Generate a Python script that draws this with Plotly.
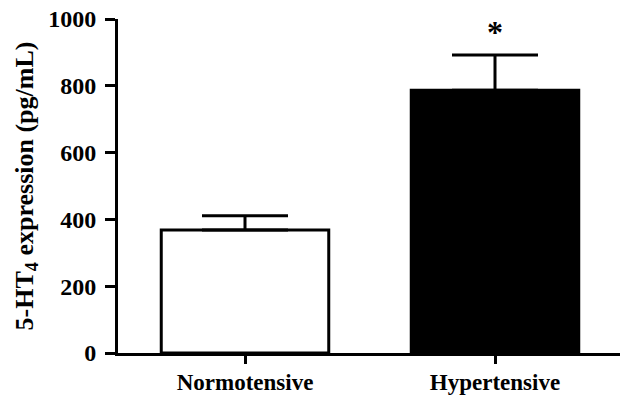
import plotly.graph_objects as go

categories = ["Normotensive", "Hypertensive"]
means = [368, 787]
sem = [43, 105]
bar_colors = ["white", "black"]
y_ticks = [0, 200, 400, 600, 800, 1000]
sig_labels = ["", "*"]

FONT = "Liberation Serif, Times New Roman, serif"

fig = go.Figure()
fig.add_trace(go.Bar(
    x=[0, 1], y=means, width=0.67,
    marker=dict(color=bar_colors, line=dict(color="black", width=3)),
    error_y=dict(type="data", symmetric=False, array=sem, arrayminus=[0, 0],
                 color="black", thickness=3, width=43),
    showlegend=False,
))

for i, s in enumerate(sig_labels):
    if s:
        fig.add_annotation(x=i, y=means[i] + sem[i], text="<b>" + s + "</b>",
                           showarrow=False, yanchor="bottom", yshift=3,
                           font=dict(family=FONT, size=32, color="black"))

fig.update_layout(
    width=625, height=395,
    margin=dict(l=118, r=5, t=19, b=42, autoexpand=False),
    paper_bgcolor="white", plot_bgcolor="white",
    font=dict(family=FONT, color="black"),
    xaxis=dict(range=[-0.508, 1.5], tickvals=[0, 1], ticktext=["<b>%s</b>" % c for c in categories],
               showline=True, linecolor="black", linewidth=3, automargin=False,
               ticks="outside", ticklen=8, tickwidth=3, tickcolor="black",
               showgrid=False, zeroline=False, ticklabelstandoff=-2,
               tickfont=dict(family=FONT, size=23, color="black")),
    yaxis=dict(range=[0, 1000], tickvals=y_ticks, ticktext=["<b>%d</b>" % v for v in y_ticks],
               showline=True, linecolor="black", linewidth=3, automargin=False,
               ticks="outside", ticklen=10, tickwidth=3, tickcolor="black",
               showgrid=False, zeroline=False, ticklabelstandoff=4,
               tickfont=dict(family=FONT, size=24, color="black"),
               title=dict(text="<b>5-HT<sub>4</sub> expression (pg/mL)</b>", standoff=8,
                          font=dict(family=FONT, size=26, color="black"))),
)

fig.write_html("out.html")
